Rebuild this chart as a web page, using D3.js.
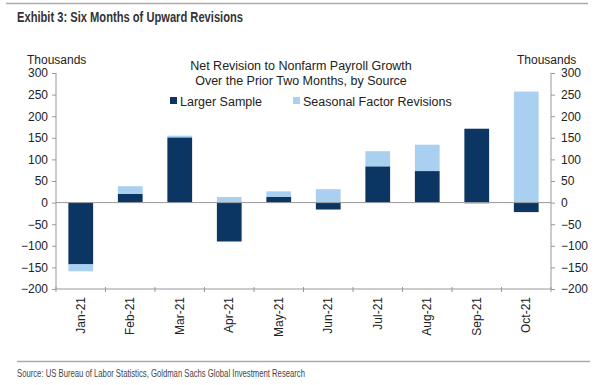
<!DOCTYPE html>
<html>
<head>
<meta charset="utf-8">
<script src="https://cdn.jsdelivr.net/npm/d3@7"></script>
<style>
  body { margin: 0; background: #fff; }
  text { font-family: "Liberation Sans", Arial, sans-serif; fill: #222; }
  .narrow { font-family: "Liberation Sans Narrow", "Liberation Sans", sans-serif; }
</style>
</head>
<body>
<div id="chart"></div>
<script>
// months and the two revision sources (thousands)
const months = ["Jan-21","Feb-21","Mar-21","Apr-21","May-21","Jun-21","Jul-21","Aug-21","Sep-21","Oct-21"];
const largerSample = [-143, 20, 151, -90, 13, -16, 84, 73, 171, -22];
const seasonalFactor = [-16, 18, 4, 13, 13, 31, 35, 61, -3, 257];
const yTicks = [-200, -150, -100, -50, 0, 50, 100, 150, 200, 250, 300];
const seriesNames = ["Larger Sample", "Seasonal Factor Revisions"];
const colors = ["#0b3562", "#a9d0f0"];

const width = 600, height = 385;
const margin = {left: 56, right: 49, top: 73, bottom: 96};

const svg = d3.select("#chart").append("svg")
    .attr("width", width)
    .attr("height", height);

// rows for stacking
const rows = months.map((m, i) => ({month: m, larger: largerSample[i], seasonal: seasonalFactor[i]}));
const stack = d3.stack()
    .keys(["larger", "seasonal"])
    .offset(d3.stackOffsetDiverging);
const layers = stack(rows);

const x = d3.scaleBand()
    .domain(months)
    .range([margin.left, width - margin.right])
    .paddingInner(0.5)
    .paddingOuter(0.25);

const y = d3.scaleLinear()
    .domain([-200, 300])
    .range([height - margin.bottom, margin.top]);

// header lines + title
svg.append("line")
    .attr("x1", 6).attr("x2", 588).attr("y1", 3.5).attr("y2", 3.5)
    .style("stroke", "#aaa").style("stroke-width", 1.5);
svg.append("text")
    .attr("class", "narrow")
    .attr("x", 17).attr("y", 22)
    .attr("textLength", 226)
    .attr("lengthAdjust", "spacingAndGlyphs")
    .style("font-size", "14px").style("font-weight", "bold")
    .style("fill", "#333")
    .text("Exhibit 3: Six Months of Upward Revisions");

// bars
svg.append("g").selectAll("g")
    .data(layers)
    .join("g")
    .style("fill", (d, i) => colors[i])
    .selectAll("rect")
    .data(d => d)
    .join("rect")
    .attr("x", d => x(d.data.month))
    .attr("width", x.bandwidth())
    .attr("y", d => y(Math.max(d[0], d[1])))
    .attr("height", d => Math.abs(y(d[0]) - y(d[1])));

// zero line
svg.append("line")
    .attr("x1", margin.left).attr("x2", width - margin.right)
    .attr("y1", y(0)).attr("y2", y(0))
    .style("stroke", "#999").style("stroke-width", 1);

// left and right axes
const yLeft = svg.append("g")
    .attr("transform", `translate(${margin.left},0)`)
    .call(d3.axisLeft(y).tickValues(yTicks).tickSize(4).tickPadding(4));
const yRight = svg.append("g")
    .attr("transform", `translate(${width - margin.right},0)`)
    .call(d3.axisRight(y).tickValues(yTicks).tickSize(4).tickPadding(6));
[yLeft, yRight].forEach(g => {
    g.selectAll("path, line").style("stroke", "#999");
    g.selectAll("text").style("font-size", "12px").style("fill", "#222");
    g.select(".domain").attr("d", `M0,${y(300)}V${y(-200)}`);
});

// bottom axis with ticks between categories
const xAxis = svg.append("g")
    .attr("transform", `translate(0,${y(-200)})`);
xAxis.append("line")
    .attr("x1", margin.left).attr("x2", width - margin.right)
    .style("stroke", "#999");
const step = x.step();
const edges = d3.range(months.length + 1).map(i => margin.left + i * step);
xAxis.selectAll(".sep")
    .data(edges)
    .join("line")
    .attr("class", "sep")
    .attr("x1", d => d).attr("x2", d => d)
    .attr("y1", -2).attr("y2", 3)
    .style("stroke", "#999");
xAxis.selectAll(".lbl")
    .data(months)
    .join("text")
    .attr("class", "lbl")
    .attr("transform", d => `translate(${x(d) + x.bandwidth() / 2 + 4},8) rotate(-90)`)
    .attr("text-anchor", "end")
    .style("font-size", "12px")
    .text(d => d);

// axis unit labels
svg.append("text")
    .attr("x", 27).attr("y", 64)
    .style("font-size", "12px")
    .text("Thousands");
svg.append("text")
    .attr("x", 517).attr("y", 64)
    .style("font-size", "12px")
    .text("Thousands");

// chart heading in plot
svg.append("text")
    .attr("x", 301).attr("y", 70)
    .attr("text-anchor", "middle")
    .style("font-size", "12.5px")
    .text("Net Revision to Nonfarm Payroll Growth");
svg.append("text")
    .attr("x", 301).attr("y", 85)
    .attr("text-anchor", "middle")
    .style("font-size", "12.5px")
    .text("Over the Prior Two Months, by Source");

// legend
const legendX = [170, 293];
const legend = svg.append("g");
seriesNames.forEach((name, i) => {
    const item = legend.append("g")
        .attr("transform", `translate(${legendX[i]},101)`);
    item.append("rect")
        .attr("x", 0).attr("y", -4)
        .attr("width", 7).attr("height", 7)
        .style("fill", colors[i]);
    item.append("text")
        .attr("x", 10).attr("y", 4.5)
        .style("font-size", "12.5px")
        .text(name);
});

// footer
svg.append("line")
    .attr("x1", 17).attr("x2", 590).attr("y1", 361.5).attr("y2", 361.5)
    .style("stroke", "#aaa").style("stroke-width", 1.5);
svg.append("text")
    .attr("class", "narrow")
    .attr("x", 17).attr("y", 377)
    .attr("textLength", 288)
    .attr("lengthAdjust", "spacingAndGlyphs")
    .style("font-size", "10.5px")
    .style("fill", "#444")
    .text("Source: US Bureau of Labor Statistics, Goldman Sachs Global Investment Research");
</script>
</body>
</html>
